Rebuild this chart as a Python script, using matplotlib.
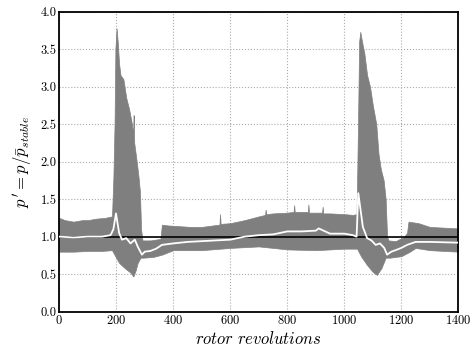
import matplotlib
matplotlib.use("Agg")
import matplotlib.pyplot as plt
import numpy as np

plt.rcParams['font.family'] = 'serif'
plt.rcParams['font.serif'] = ['cmr10', 'DejaVu Serif']
plt.rcParams['mathtext.fontset'] = 'cm'
plt.rcParams['axes.formatter.use_mathtext'] = True

# upper envelope of p' (max over a revolution)
x_up = np.array([0, 20, 50, 80, 100, 130, 160, 185, 190, 194, 197, 201, 205, 210, 215, 225,
                 235, 245, 255, 259, 261, 263, 270, 278, 283, 287, 292, 320, 355, 360,
                 380, 420, 460, 500, 540, 562, 564, 566, 600, 650, 700, 722, 724, 726,
                 750, 800, 822, 824, 826, 850, 872, 874, 876, 900, 922, 924, 926, 950,
                 1000, 1030, 1043, 1048, 1052, 1056, 1062, 1070, 1080, 1090, 1100, 1112,
                 1120, 1128, 1138, 1145, 1150, 1155, 1180, 1210, 1220, 1225, 1260, 1300,
                 1350, 1400])
y_up = np.array([1.25, 1.22, 1.2, 1.22, 1.22, 1.24, 1.25, 1.27, 1.8, 2.5, 3.5, 3.78, 3.6, 3.3,
                 3.15, 3.1, 2.85, 2.7, 2.5, 2.35, 2.62, 2.25, 2.05, 1.8, 1.6, 1.1, 0.95,
                 0.95, 0.97, 1.16, 1.15, 1.14, 1.13, 1.13, 1.15, 1.16, 1.3, 1.17, 1.18,
                 1.22, 1.27, 1.29, 1.36, 1.3, 1.31, 1.32, 1.33, 1.42, 1.33, 1.33, 1.33,
                 1.43, 1.32, 1.32, 1.32, 1.4, 1.31, 1.31, 1.3, 1.29, 1.3, 2.5, 3.6, 3.73,
                 3.6, 3.45, 3.15, 3.0, 2.75, 2.5, 2.1, 1.9, 1.75, 1.5, 1.0, 0.95, 0.94, 1.0,
                 1.05, 1.2, 1.18, 1.13, 1.12, 1.11])

# lower envelope of p' (min over a revolution)
x_lo = np.array([0, 50, 100, 150, 185, 195, 210, 230, 250, 260, 268, 275, 285, 295, 330,
                 360, 400, 450, 500, 600, 700, 800, 900, 1000, 1045, 1050, 1060, 1080,
                 1100, 1114, 1130, 1145, 1160, 1200, 1230, 1250, 1300, 1400])
y_lo = np.array([0.8, 0.8, 0.81, 0.81, 0.82, 0.75, 0.65, 0.58, 0.52, 0.47, 0.55, 0.65, 0.72,
                 0.72, 0.73, 0.76, 0.82, 0.82, 0.82, 0.85, 0.87, 0.83, 0.82, 0.84, 0.84,
                 0.8, 0.73, 0.62, 0.53, 0.49, 0.58, 0.72, 0.72, 0.74, 0.8, 0.85, 0.82, 0.8])

# mean p'
x_mean = np.array([0, 50, 100, 150, 180, 190, 199, 210, 220, 235, 250, 265, 275, 290, 300,
                   320, 340, 360, 400, 450, 500, 600, 650, 700, 750, 800, 850, 900, 910,
                   950, 1000, 1030, 1043, 1049, 1065, 1080, 1095, 1110, 1125, 1140, 1150,
                   1165, 1180, 1200, 1220, 1250, 1300, 1400])
y_mean = np.array([1.0, 0.99, 1.0, 1.0, 1.02, 1.1, 1.31, 1.05, 0.96, 0.98, 0.91, 0.96, 0.87,
                   0.76, 0.8, 0.81, 0.84, 0.89, 0.91, 0.93, 0.94, 0.96, 1.0, 1.02, 1.03, 1.07,
                   1.07, 1.08, 1.11, 1.04, 1.04, 1.02, 1.0, 1.58, 1.13, 0.98, 0.95, 0.89,
                   0.91, 0.85, 0.76, 0.8, 0.82, 0.85, 0.89, 0.93, 0.93, 0.92])

fig = plt.figure(figsize=(4.74, 3.51), dpi=100)
ax = fig.add_axes([0.125, 0.112, 0.842, 0.855])

xs = np.union1d(x_up, x_lo)
up = np.interp(xs, x_up, y_up)
lo = np.interp(xs, x_lo, y_lo)
ax.fill_between(xs, lo, up, color='#7f7f7f', linewidth=0.5, zorder=2)
ax.axhline(1.0, color='black', linewidth=1.2, zorder=3)
ax.plot(x_mean, y_mean, color='white', linewidth=1.3, zorder=4)

ax.set_xlim(0, 1400)
ax.set_ylim(0, 4.0)
ax.set_xticks(np.arange(0, 1401, 200))
ax.set_yticks(np.arange(0, 4.01, 0.5))
ax.set_yticklabels(['%.1f' % v for v in np.arange(0, 4.01, 0.5)])
ax.tick_params(length=0, labelsize=9, pad=2)
ax.grid(True, linestyle=':', color='#aaaaaa', linewidth=0.8, zorder=0)
ax.set_axisbelow(True)
for s in ax.spines.values():
    s.set_linewidth(1.3)

ax.set_xlabel(r'$rotor\ revolutions$', fontsize=12, labelpad=2)
ax.set_ylabel(r"$p^{\,\prime} = p/\bar{p}_{stable}$", fontsize=12, labelpad=4)

fig.savefig('out.png', dpi=100)
